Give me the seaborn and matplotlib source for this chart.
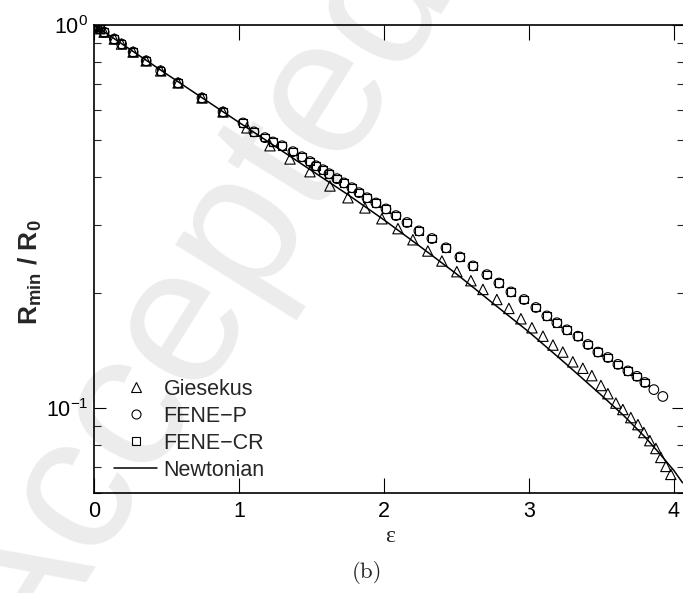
import matplotlib
matplotlib.use("Agg")
import matplotlib.pyplot as plt
import numpy as np
import pandas as pd
import seaborn as sns
from matplotlib.lines import Line2D
from matplotlib.ticker import LogLocator, NullFormatter, FixedLocator

# ---------------- data ----------------
# early points shared by all three viscoelastic models
eps_early = [0.0, 0.01, 0.02, 0.04, 0.07, 0.14, 0.19, 0.27, 0.36, 0.46, 0.58, 0.745, 0.89]
R_early = [1.0, 0.995, 0.99, 0.978, 0.958, 0.919, 0.892, 0.850, 0.806, 0.759, 0.706, 0.645, 0.593]

giesekus_eps = [1.055, 1.214, 1.352, 1.490, 1.628, 1.752, 1.869, 1.986, 2.097, 2.200,
                2.303, 2.400, 2.503, 2.600, 2.683, 2.779, 2.862, 2.945, 3.021, 3.097,
                3.166, 3.234, 3.303, 3.372, 3.434, 3.497, 3.545, 3.600, 3.648, 3.703,
                3.752, 3.793, 3.834, 3.876, 3.910, 3.945, 3.979]
giesekus_R = [0.539, 0.484, 0.447, 0.414, 0.380, 0.354, 0.333, 0.312, 0.294, 0.275,
              0.257, 0.242, 0.227, 0.215, 0.204, 0.192, 0.182, 0.171, 0.162, 0.154,
              0.146, 0.140, 0.132, 0.127, 0.1215, 0.1145, 0.109, 0.103, 0.0991, 0.0944,
              0.0905, 0.0863, 0.0822, 0.0784, 0.0743, 0.0704, 0.0671]

fenep_eps = [1.028, 1.103, 1.179, 1.234, 1.297, 1.372, 1.434, 1.490, 1.531, 1.579,
             1.621, 1.676, 1.724, 1.779, 1.828, 1.883, 1.945, 2.014, 2.083, 2.159,
             2.241, 2.331, 2.428, 2.524, 2.614, 2.710, 2.793, 2.876, 2.966, 3.048,
             3.124, 3.193, 3.262, 3.338, 3.407, 3.476, 3.545, 3.614, 3.683, 3.745,
             3.800, 3.862, 3.924]
fenep_R = [0.555, 0.526, 0.508, 0.495, 0.484, 0.467, 0.453, 0.440, 0.429, 0.419,
           0.409, 0.397, 0.387, 0.376, 0.365, 0.354, 0.343, 0.331, 0.318, 0.305,
           0.290, 0.277, 0.262, 0.248, 0.235, 0.223, 0.212, 0.201, 0.192, 0.183,
           0.174, 0.167, 0.160, 0.154, 0.1465, 0.140, 0.1355, 0.130, 0.125, 0.121,
           0.1166, 0.1117, 0.1072]

fenecr_eps = [1.028, 1.103, 1.179, 1.234, 1.297, 1.372, 1.434, 1.490, 1.531, 1.579,
              1.621, 1.676, 1.724, 1.779, 1.828, 1.883, 1.945, 2.014, 2.083, 2.159,
              2.241, 2.331, 2.428, 2.524, 2.614, 2.710, 2.793, 2.876, 2.966, 3.048,
              3.124, 3.193, 3.262, 3.338, 3.407, 3.476, 3.545, 3.614, 3.683, 3.745,
              3.800]
fenecr_R = [0.555, 0.526, 0.508, 0.495, 0.484, 0.467, 0.453, 0.440, 0.429, 0.419,
            0.409, 0.397, 0.387, 0.376, 0.365, 0.354, 0.343, 0.331, 0.318, 0.305,
            0.290, 0.277, 0.262, 0.248, 0.235, 0.223, 0.212, 0.201, 0.192, 0.183,
            0.174, 0.167, 0.160, 0.154, 0.1465, 0.140, 0.1355, 0.130, 0.125, 0.121,
            0.1166]

newton_eps = [0.0, 0.25, 0.5, 0.75, 1.0, 1.25, 1.5, 1.75, 2.0, 2.25, 2.5, 2.75,
              3.0, 3.25, 3.5, 3.65, 3.8, 3.9, 4.0, 4.06]
newton_R = [1.0, 0.863, 0.745, 0.644, 0.557, 0.482, 0.417, 0.361, 0.310, 0.264,
            0.224, 0.188, 0.158, 0.131, 0.108, 0.0959, 0.0841, 0.0762, 0.0687, 0.0638]

labels = ["Giesekus", "FENE\u2212P", "FENE\u2212CR", "Newtonian"]
x_ticks = [0, 1, 2, 3, 4]

# ---------------- style ----------------
sns.set_theme(style="ticks")
plt.rcParams["font.family"] = ["Liberation Sans", "DejaVu Sans"]
plt.rcParams["mathtext.fontset"] = "custom"
plt.rcParams["mathtext.rm"] = "Liberation Sans"
plt.rcParams["mathtext.it"] = "Liberation Sans:italic"
plt.rcParams["mathtext.bf"] = "Liberation Sans:bold"
plt.rcParams["mathtext.default"] = "regular"

W, H = 683, 593
fig = plt.figure(figsize=(W / 100, H / 100), dpi=100)
left_px, right_px, top_px, bot_px = 94, 684, 25, 493
ax = fig.add_axes([left_px / W, 1 - bot_px / H, (right_px - left_px) / W, (bot_px - top_px) / H])
ax.set_facecolor("white")

df_g = pd.DataFrame({"eps": eps_early + giesekus_eps, "R": R_early + giesekus_R})
df_p = pd.DataFrame({"eps": eps_early + fenep_eps, "R": R_early + fenep_R})
df_c = pd.DataFrame({"eps": eps_early + fenecr_eps, "R": R_early + fenecr_R})
df_n = pd.DataFrame({"eps": newton_eps, "R": newton_R})

sns.lineplot(data=df_n, x="eps", y="R", color="black", linewidth=1.1, sort=False,
             estimator=None, ax=ax, zorder=2)
sns.scatterplot(data=df_c, x="eps", y="R", marker="s", s=30, facecolors="none",
                edgecolor="black", linewidth=0.8, ax=ax, zorder=3)
sns.scatterplot(data=df_p, x="eps", y="R", marker="o", s=48, facecolors="none",
                edgecolor="black", linewidth=0.8, ax=ax, zorder=3)
sns.scatterplot(data=df_g, x="eps", y="R", marker="^", s=56, facecolors="none",
                edgecolor="black", linewidth=0.8, ax=ax, zorder=3)

ax.set_yscale("log")
ax.set_xlim(0, 4.07)
ax.set_ylim(0.06, 1.0)

ax.xaxis.set_major_locator(FixedLocator(x_ticks))
ax.set_xticklabels([str(t) for t in x_ticks])
ax.yaxis.set_major_locator(LogLocator(base=10, numticks=10))
ax.yaxis.set_minor_locator(LogLocator(base=10, subs=np.arange(2, 10) * 1.0, numticks=20))
ax.yaxis.set_minor_formatter(NullFormatter())

for s in ax.spines.values():
    s.set_linewidth(1.2)
    s.set_color("black")

ax.tick_params(axis="x", which="major", direction="in", length=10.5, width=0.8,
               top=True, bottom=True, labelsize=15.5, pad=6, colors="black")
ax.tick_params(axis="y", which="major", direction="in", length=8.5, width=0.8,
               left=True, right=True, labelsize=15.5, pad=4, colors="black")
ax.tick_params(axis="y", which="minor", direction="in", length=5, width=0.8,
               left=True, right=True)

ax.set_xlabel("\u03b5", fontsize=17, family=["Liberation Serif", "DejaVu Serif"])
ax.xaxis.set_label_coords((390 - left_px) / (right_px - left_px), -(536 - bot_px) / (bot_px - top_px))
ax.xaxis.label.set_va("center")
ax.set_ylabel(r"$\mathbf{R_{min}\ /\ R_0}$", fontsize=19)
ax.yaxis.set_label_coords((30 - left_px) / (right_px - left_px), (bot_px - 272) / (bot_px - top_px))
ax.yaxis.label.set_va("center")

handles = [
    Line2D([], [], marker="^", ls="none", mfc="none", mec="black", ms=6.5, mew=0.8),
    Line2D([], [], marker="o", ls="none", mfc="none", mec="black", ms=6.5, mew=0.8),
    Line2D([], [], marker="s", ls="none", mfc="none", mec="black", ms=5.5, mew=0.8),
    Line2D([], [], color="black", lw=1.1),
]
leg = ax.legend(handles, labels, loc="lower left", frameon=False, fontsize=15.5,
                handlelength=2.0, handletextpad=0.3, labelspacing=0.28,
                borderpad=0, borderaxespad=0,
                bbox_to_anchor=(114 / W, 1 - 481 / H), bbox_transform=fig.transFigure)

fig.text(367 / W, 1 - 573 / H, "(b)", fontsize=16.5, family="cmr10", ha="center", va="center")

# watermark
fig.text(0.292, 0.486, "Accepted", fontsize=140, rotation=58, color="black", alpha=0.08,
         ha="center", va="center", family="Liberation Sans", zorder=10)

fig.savefig("out.png", dpi=100)
